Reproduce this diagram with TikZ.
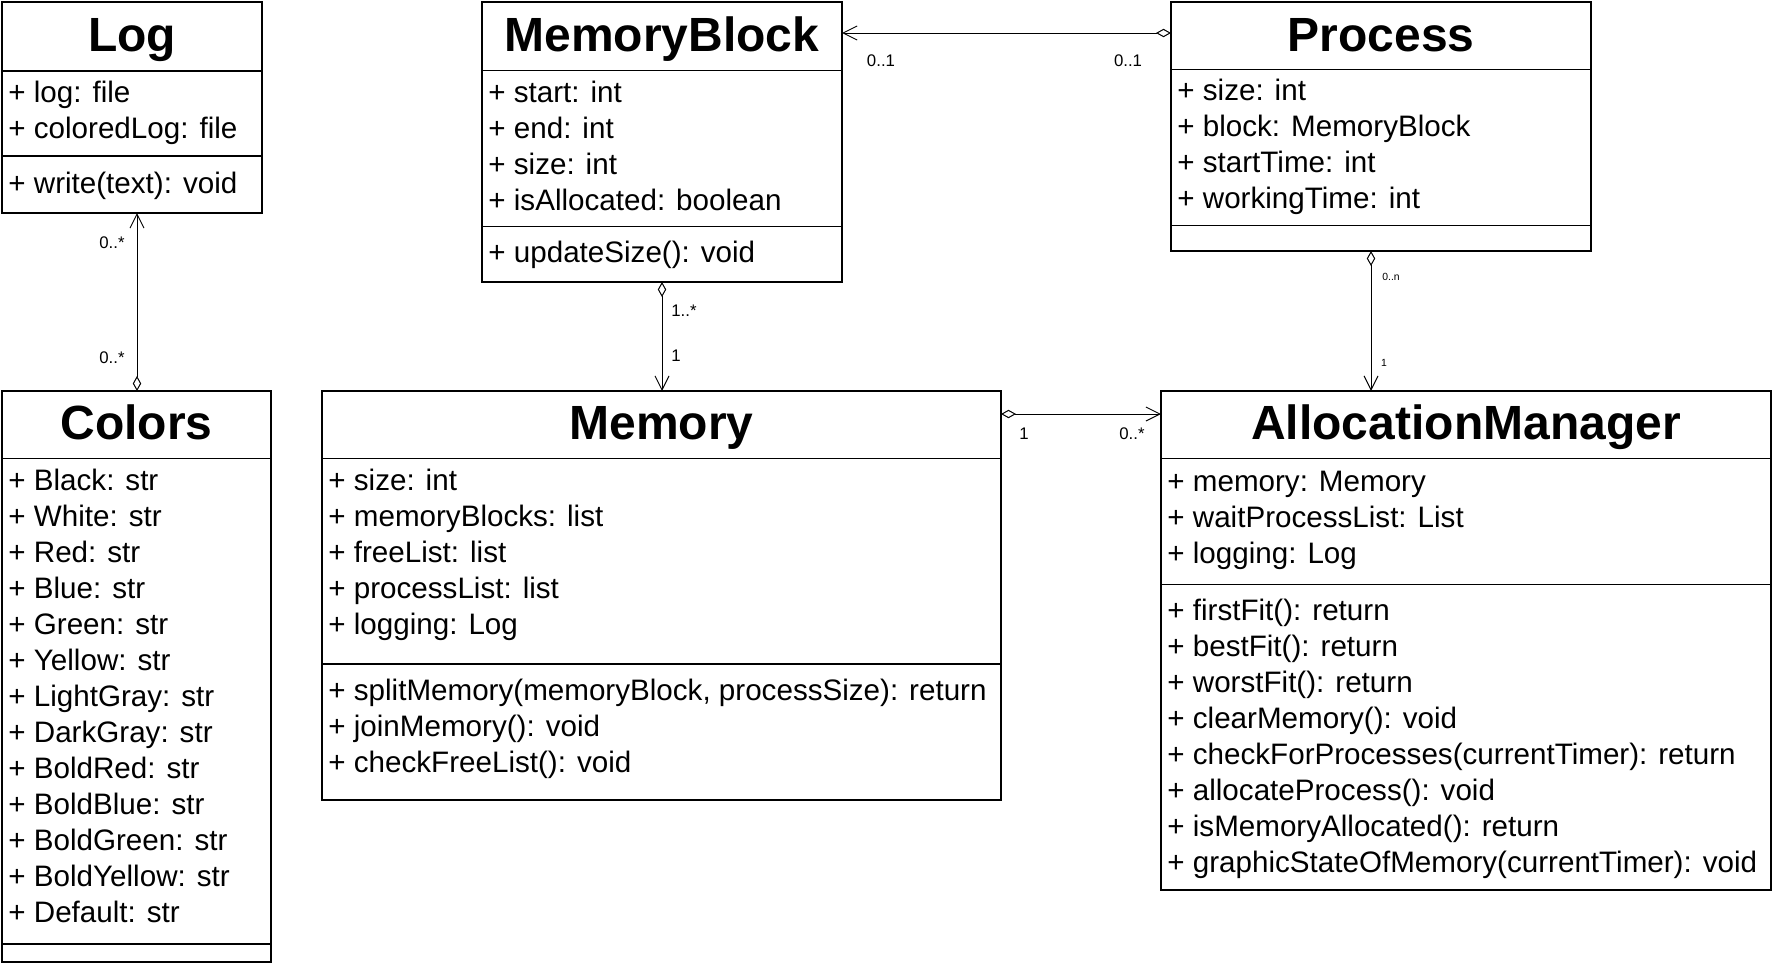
\documentclass[tikz,border=0pt]{standalone}
\usepackage{fontspec}
\setmainfont{Liberation Sans}
\usetikzlibrary{arrows.meta}
\tikzset{
  classbox/.style={draw, line width=0.8pt, inner sep=0pt, outer sep=0pt, anchor=north west},
  sepline/.style={line width=0.8pt},
  classtitle/.style={font=\fontsize{24}{28}\selectfont\bfseries, anchor=base, inner sep=0pt},
  member/.style={font=\fontsize{14.8}{18}\selectfont, anchor=base west, inner sep=0pt},
  mult/.style={font=\fontsize{8.4}{10}\selectfont, inner sep=0pt},
  smallmult/.style={font=\fontsize{5.2}{6}\selectfont, inner sep=0pt},
  assoc/.style={line width=0.5pt, {Diamond[open,length=7.5pt,width=4.2pt]}-{Straight Barb[length=7pt,width=7pt]}},
}
\newcommand\umlbox[5]{\node[classbox, minimum width={(#4-#2)*0.5pt}, minimum height={(#5-#3)*0.5pt}] (#1) at (#2,#3) {};}
\newcommand\sepat[2]{\draw[sepline] (#1.west |- 0,#2) -- (#1.east |- 0,#2);}
\begin{document}
\begin{tikzpicture}[x=0.5pt,y=-0.5pt]
\useasboundingbox[fill=white] (0,0) rectangle (1773,964);

% ---------- Log ----------
\umlbox{log}{2}{2}{262}{213}
\sepat{log}{71}\sepat{log}{156}
\node[classtitle] (logT) at (log.center |- 0,51) {Log};
\node[member] (log1) at (8,102) {+ log: file};
\node[member] (log2) at (8,138) {+ coloredLog: file};
\node[member] (log3) at (8,193) {+ write(text): void};

% ---------- MemoryBlock ----------
\umlbox{mb}{482}{2}{842}{282}
\sepat{mb}{70.5}\sepat{mb}{226.5}
\node[classtitle] (mbT) at (mb.center |- 0,51) {MemoryBlock};
\node[member] (mb1) at (488,102) {+ start: int};
\node[member] (mb2) at (488,138) {+ end: int};
\node[member] (mb3) at (488,174) {+ size: int};
\node[member] (mb4) at (488,210) {+ isAllocated: boolean};
\node[member] (mb5) at (488,262) {+ updateSize(): void};

% ---------- Process ----------
\umlbox{proc}{1171}{2}{1591}{251}
\sepat{proc}{69.5}\sepat{proc}{225.5}
\node[classtitle] (procT) at (proc.center |- 0,51) {Process};
\node[member] (p1) at (1177,100) {+ size: int};
\node[member] (p2) at (1177,136) {+ block: MemoryBlock};
\node[member] (p3) at (1177,172) {+ startTime: int};
\node[member] (p4) at (1177,208) {+ workingTime: int};

% ---------- Colors ----------
\umlbox{colors}{2}{391}{271}{962}
\sepat{colors}{458.5}\sepat{colors}{944}
\node[classtitle] (colT) at (colors.center |- 0,439.5) {Colors};
\foreach \t [count=\i from 0] in {Black,White,Red,Blue,Green,Yellow,LightGray,DarkGray,BoldRed,BoldBlue,BoldGreen,BoldYellow,Default}
  \node[member] (col\i) at (8,490+36*\i) {+ \t: str};

% ---------- Memory ----------
\umlbox{memory}{322}{391}{1001}{800}
\sepat{memory}{458.5}\sepat{memory}{664}
\node[classtitle] (memT) at (memory.center |- 0,439.5) {Memory};
\node[member] (m1) at (328,490) {+ size: int};
\node[member] (m2) at (328,526) {+ memoryBlocks: list};
\node[member] (m3) at (328,562) {+ freeList: list};
\node[member] (m4) at (328,598) {+ processList: list};
\node[member] (m5) at (328,634) {+ logging: Log};
\node[member] (m6) at (328,700.5) {+ splitMemory(memoryBlock, processSize): return};
\node[member] (m7) at (328,736.5) {+ joinMemory(): void};
\node[member] (m8) at (328,772) {+ checkFreeList(): void};

% ---------- AllocationManager ----------
\umlbox{am}{1161}{391}{1771}{890}
\sepat{am}{458.5}\sepat{am}{584.5}
\node[classtitle] (amT) at (am.center |- 0,439.5) {AllocationManager};
\node[member] (a1) at (1167,491) {+ memory: Memory};
\node[member] (a2) at (1167,527) {+ waitProcessList: List};
\node[member] (a3) at (1167,563) {+ logging: Log};
\node[member] (a4) at (1167,620) {+ firstFit(): return};
\node[member] (a5) at (1167,656) {+ bestFit(): return};
\node[member] (a6) at (1167,692) {+ worstFit(): return};
\node[member] (a7) at (1167,728) {+ clearMemory(): void};
\node[member] (a8) at (1167,764) {+ checkForProcesses(currentTimer): return};
\node[member] (a9) at (1167,800) {+ allocateProcess(): void};
\node[member] (a10) at (1167,836) {+ isMemoryAllocated(): return};
\node[member] (a11) at (1167,872) {+ graphicStateOfMemory(currentTimer): void};

% ---------- Connectors ----------
\coordinate (cx1) at (137,0);
\coordinate (cy2) at (0,33);
\coordinate (cx3) at (662,0);
\coordinate (cx4) at (1371,0);
\coordinate (cy5) at (0,414);

\draw[assoc] (cx1 |- colors.north) -- (cx1 |- log.south);
\node[mult] (l1a) at (112,243) {0..*};
\node[mult] (l1b) at (112,358) {0..*};

\draw[assoc] (proc.west |- cy2) -- (mb.east |- cy2);
\node[mult] (l2a) at (881,61) {0..1};
\node[mult] (l2b) at (1128,61) {0..1};

\draw[assoc] (cx3 |- mb.south) -- (cx3 |- memory.north);
\node[mult] (l3a) at (684,311) {1..*};
\node[mult] (l3b) at (676,356) {1};

\draw[assoc] (cx4 |- proc.south) -- (cx4 |- am.north);
\node[smallmult] (l4a) at (1391,277) {0..n};
\node[smallmult] (l4b) at (1384,363) {1};

\draw[assoc] (memory.east |- cy5) -- (am.west |- cy5);
\node[mult] (l5a) at (1024,434) {1};
\node[mult] (l5b) at (1132,434) {0..*};
\end{tikzpicture}
\end{document}
